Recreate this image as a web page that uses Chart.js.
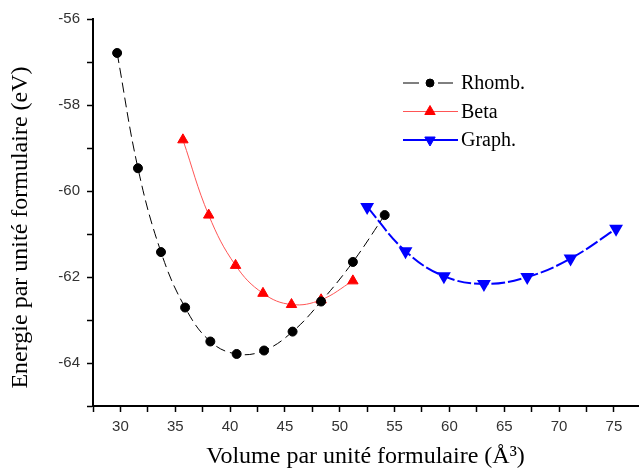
<!DOCTYPE html>
<html>
<head>
<meta charset="utf-8">
<script src="https://cdn.jsdelivr.net/npm/chart.js@4.4.0/dist/chart.umd.min.js"></script>
<style>body{margin:0;background:#fff}</style>
</head>
<body>
<canvas id="canvas" width="639" height="472"></canvas>
<script>
// volumes (A^3) and energies (eV)
var rhombX = [29.7, 31.6, 33.7, 35.9, 38.2, 40.6, 43.1, 45.7, 48.3, 51.2, 54.1];
var rhombY = [-56.79, -59.47, -61.42, -62.71, -63.50, -63.79, -63.71, -63.27, -62.57, -61.65, -60.56];
var betaX = [35.7, 38.05, 40.5, 43.0, 45.6, 48.3, 51.2];
var betaY = [-58.81, -60.56, -61.73, -62.38, -62.64, -62.53, -62.09];
var graphX = [52.5, 56.0, 59.5, 63.15, 67.1, 71.05, 75.2];
var graphY = [-60.37, -61.40, -61.98, -62.16, -62.00, -61.57, -60.88];
var seriesNames = ['Rhomb.', 'Beta', 'Graph.'];

function pts(xs, ys) {
    return xs.map(function(x, i) { return {x: x, y: ys[i]}; });
}

var tickFont = {family: '"Liberation Sans", Arial, sans-serif', size: 15};
var titleFont = {family: '"Liberation Serif", "Times New Roman", serif', size: 24};

// legend drawn inside the plot, like the original
var insideLegend = {
    id: 'insideLegend',
    afterDatasetsDraw: function(chart) {
        var ctx = chart.ctx;
        chart.data.datasets.forEach(function(ds, i) {
            var y = 83 + i * 28.5;
            ctx.save();
            ctx.strokeStyle = ds.borderColor;
            ctx.lineWidth = ds.borderWidth;
            ctx.beginPath();
            if (i === 0) {
                ctx.moveTo(403, y); ctx.lineTo(419, y);
                ctx.moveTo(438, y); ctx.lineTo(453, y);
            } else {
                ctx.moveTo(403, y); ctx.lineTo(458, y);
            }
            ctx.stroke();
            ctx.fillStyle = ds.pointBackgroundColor;
            ctx.strokeStyle = ds.pointBorderColor;
            ctx.lineWidth = 1;
            Chart.helpers.drawPoint(ctx, {
                pointStyle: ds.pointStyle,
                rotation: ds.pointRotation || 0,
                radius: i === 0 ? 4 : ds.pointRadius,
                borderWidth: 1
            }, 430, y);
            ctx.fillStyle = '#000';
            ctx.font = '20px "Liberation Serif", serif';
            ctx.textBaseline = 'middle';
            ctx.textAlign = 'left';
            ctx.fillText(ds.label, 461, y + 1);
            ctx.restore();
        });
    }
};

var ctx = document.getElementById('canvas').getContext('2d');
var chart = new Chart(ctx, {
    type: 'line',
    data: {
        datasets: [{
            label: seriesNames[0],
            data: pts(rhombX, rhombY),
            borderColor: '#000',
            borderWidth: 1,
            borderDash: [10, 5],
            pointStyle: 'circle',
            pointRadius: 4.5,
            pointBackgroundColor: '#000',
            pointBorderColor: '#000',
            tension: 0.4
        }, {
            label: seriesNames[1],
            data: pts(betaX, betaY),
            borderColor: '#ff5555',
            borderWidth: 1,
            pointStyle: 'triangle',
            pointRadius: 6,
            pointBackgroundColor: '#ff0000',
            pointBorderColor: '#ff0000',
            tension: 0.4
        }, {
            label: seriesNames[2],
            data: pts(graphX, graphY),
            borderColor: '#0000ff',
            borderWidth: 2,
            borderDash: [14, 3],
            pointStyle: 'triangle',
            pointRotation: 180,
            pointRadius: 6,
            pointBackgroundColor: '#0000ff',
            pointBorderColor: '#0000ff',
            tension: 0.4
        }]
    },
    options: {
        responsive: false,
        animation: false,
        layout: {autoPadding: false, padding: {top: 19, right: 1, left: 0, bottom: 0}},
        plugins: {
            legend: {display: false},
            tooltip: {enabled: false}
        },
        scales: {
            x: {
                type: 'linear',
                min: 27.5,
                max: 77.2,
                border: {display: true, color: '#000', width: 2},
                grid: {drawOnChartArea: false, drawTicks: true, tickLength: 6, tickColor: '#000', tickWidth: 1.5},
                ticks: {
                    stepSize: 2.5,
                    includeBounds: false,
                    autoSkip: false,
                    maxRotation: 0,
                    padding: 6,
                    color: '#333',
                    font: tickFont,
                    callback: function(v) { return v % 5 === 0 ? v : ''; }
                },
                title: {
                    display: true,
                    text: 'Volume par unité formulaire (Å³)',
                    color: '#000',
                    font: titleFont,
                    padding: {top: 0, bottom: 1}
                },
                afterFit: function(s) {
                    s.height = 66;
                    s.paddingLeft = 0;
                    s.paddingRight = 0;
                }
            },
            y: {
                min: -65,
                max: -56,
                border: {display: true, color: '#000', width: 2},
                grid: {drawOnChartArea: false, drawTicks: true, tickLength: 6, tickColor: '#000', tickWidth: 1.5},
                ticks: {
                    stepSize: 1,
                    autoSkip: false,
                    padding: 7,
                    color: '#333',
                    font: tickFont,
                    callback: function(v) { return v % 2 === 0 ? v : ''; }
                },
                title: {
                    display: true,
                    text: 'Energie par unité formulaire (eV)     ',
                    color: '#000',
                    font: titleFont,
                    padding: {top: 6, bottom: 0}
                },
                afterFit: function(s) { s.width = 93; }
            }
        }
    },
    plugins: [insideLegend]
});
</script>
</body>
</html>
